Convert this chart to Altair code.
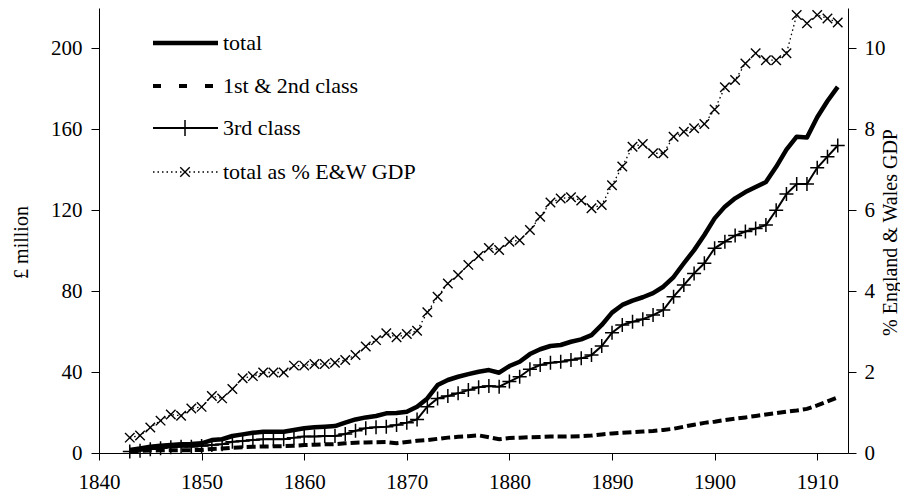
import altair as alt
import pandas as pd

years = list(range(1843, 1913))

total = [1.5, 2.3, 3.1, 3.6, 4.0, 4.3, 4.4, 4.8, 6.4, 6.8,
         8.4, 9.2, 10.0, 10.5, 10.5, 10.5, 11.4, 12.2, 12.7, 13.0,
         13.3, 15.0, 16.6, 17.6, 18.3, 19.6, 19.8, 20.4, 22.9, 27.0,
         33.6, 36.1, 37.7, 39.0, 40.2, 41.0, 39.7, 43.0, 45.1, 48.9,
         51.3, 52.9, 53.4, 55.0, 56.2, 58.3, 63.3, 69.4, 73.2, 75.3,
         77.0, 79.0, 82.2, 87.0, 93.8, 100.3, 107.8, 116.0, 121.8, 125.9,
         129.0, 131.5, 134.0, 141.5, 150.0, 156.4, 156.0, 166.0, 174.0, 181.0]

first_second = [0.8, 1.0, 1.2, 1.3, 1.3, 1.4, 1.4, 1.5, 2.0, 2.2,
                2.6, 2.9, 3.1, 3.2, 3.3, 3.4, 3.6, 3.9, 4.1, 4.3,
                4.4, 4.8, 5.1, 5.2, 5.3, 5.4, 4.8, 5.4, 6.0, 6.4,
                7.0, 7.6, 8.0, 8.3, 8.7, 7.8, 6.8, 7.4, 7.6, 7.8,
                7.9, 8.1, 8.1, 8.2, 8.3, 8.6, 9.2, 9.7, 10.0, 10.3,
                10.6, 10.9, 11.4, 12.0, 13.0, 14.0, 14.9, 15.5, 16.3, 17.0,
                17.6, 18.3, 19.0, 19.7, 20.4, 21.0, 21.8, 23.5, 25.5, 27.5]

third = [0.7, 1.1, 1.8, 2.3, 2.8, 3.1, 3.1, 3.5, 4.0, 4.3,
         5.6, 5.9, 6.4, 6.8, 6.8, 6.8, 7.6, 8.1, 8.1, 8.4,
         8.4, 9.4, 11.0, 12.2, 12.7, 13.0, 13.8, 15.0, 16.6, 22.9,
         27.0, 28.2, 29.5, 31.1, 32.5, 33.1, 32.8, 35.3, 37.7, 41.4,
         43.5, 44.6, 45.1, 46.0, 46.8, 48.4, 52.9, 59.5, 63.3, 64.9,
         66.1, 68.2, 70.7, 77.3, 83.0, 88.8, 93.8, 101.2, 104.5, 107.5,
         109.5, 111.0, 112.7, 120.0, 128.0, 133.0, 133.0, 141.0, 146.5, 152.0]

gdp_pct = [0.38, 0.43, 0.63, 0.80, 0.95, 0.92, 1.10, 1.14, 1.41, 1.35,
           1.58, 1.85, 1.90, 1.99, 1.99, 1.99, 2.16, 2.16, 2.20, 2.20,
           2.23, 2.30, 2.42, 2.63, 2.79, 2.96, 2.86, 2.94, 3.02, 3.48,
           3.86, 4.19, 4.40, 4.65, 4.87, 5.07, 5.02, 5.22, 5.26, 5.51,
           5.84, 6.19, 6.29, 6.32, 6.24, 6.05, 6.13, 6.62, 7.08, 7.57,
           7.64, 7.41, 7.41, 7.82, 7.94, 8.03, 8.13, 8.49, 9.04, 9.22,
           9.63, 9.88, 9.71, 9.71, 9.88, 10.83, 10.62, 10.83, 10.74, 10.64]

x_ticks = [1840, 1850, 1860, 1870, 1880, 1890, 1900, 1910]
left_ticks = [0, 40, 80, 120, 160, 200]
right_ticks = [0, 2, 4, 6, 8, 10]
legend_labels = ["total", "1st & 2nd class", "3rd class", "total as % E&W GDP"]

df = pd.DataFrame({"year": years, "total": total, "first_second": first_second,
                   "third": third, "gdp": gdp_pct})
leg_df = pd.DataFrame({"label": legend_labels})

FONT = "Liberation Serif"
PLUS = "M-1,0L1,0M0,-1L0,1"
CROSS = "M-1,-1L1,1M-1,1L1,-1"

x_axis = alt.Axis(values=x_ticks, format="d", tickSize=7, labelPadding=11, grid=False,
                  domainColor="black", tickColor="black", labelFont=FONT,
                  labelFontSize=21, labelColor="black", labelFlush=False)
left_axis = alt.Axis(values=left_ticks, tickSize=8, labelPadding=9, grid=False,
                     domainColor="black", tickColor="black", labelFont=FONT,
                     labelFontSize=21, labelColor="black",
                     title="£ million", titleFont=FONT, titleFontSize=20,
                     titleFontWeight="normal", titleColor="#000000", titleAngle=270,
                     titleX=-78, titleY=234, titleAlign="center", titleBaseline="middle")
right_axis = alt.Axis(orient="right", values=right_ticks, tickSize=8, labelPadding=8,
                      grid=False, domainColor="black", tickColor="black", labelFont=FONT,
                      labelFontSize=21, labelColor="black",
                      title="% England & Wales GDP", titleFont=FONT, titleFontSize=20,
                      titleFontWeight="normal", titleColor="#000000", titleAngle=270,
                      titleX=42, titleY=224, titleAlign="center", titleBaseline="middle")

x_enc = alt.X("year:Q", scale=alt.Scale(domain=[1840, 1913], nice=False, zero=False),
              axis=x_axis, title=None)
left_scale = alt.Scale(domain=[0, 220], nice=False)
right_scale = alt.Scale(domain=[0, 11], nice=False)


def yl(field):
    return alt.Y(f"{field}:Q", scale=left_scale, axis=left_axis)


def yr(field):
    return alt.Y(f"{field}:Q", scale=right_scale, axis=right_axis)


base = alt.Chart(df)

total_line = base.mark_line(color="black", strokeWidth=4.5, strokeJoin="round").encode(
    x=x_enc, y=yl("total"))
fs_line = base.mark_line(color="black", strokeWidth=4, strokeDash=[9, 4]).encode(
    x=x_enc, y=yl("first_second"))
third_line = base.mark_line(color="black", strokeWidth=2).encode(x=x_enc, y=yl("third"))
third_pts = base.mark_point(shape=PLUS, size=196, filled=False, color="black",
                            strokeWidth=1.5, opacity=1).encode(x=x_enc, y=yl("third"))

gdp_line = base.mark_line(color="black", strokeWidth=1.3, strokeDash=[1.5, 3]).encode(
    x=x_enc, y=yr("gdp"))
gdp_pts = base.mark_point(shape=CROSS, size=90, filled=False, color="black",
                          strokeWidth=1.4, opacity=1).encode(x=x_enc, y=yr("gdp"))

left = alt.layer(total_line, fs_line, third_line, third_pts)
right = alt.layer(gdp_line, gdp_pts)

# manual legend (pixel positions inside the plot area)
row_y = [35, 78, 120, 164]
leg = alt.Chart(leg_df)


def leg_rule(i, **kw):
    return leg.transform_filter(alt.datum.label == legend_labels[i]).mark_rule(
        color="black", **kw).encode(x=alt.value(54), x2=alt.value(119), y=alt.value(row_y[i]))


def leg_text(i):
    return leg.transform_filter(alt.datum.label == legend_labels[i]).mark_text(
        align="left", baseline="middle", font=FONT, fontSize=22, color="black").encode(
        x=alt.value(124), y=alt.value(row_y[i]), text="label:N")


def leg_point(i, shape, size, sw):
    return leg.transform_filter(alt.datum.label == legend_labels[i]).mark_point(
        shape=shape, size=size, filled=False, color="black", strokeWidth=sw,
        opacity=1).encode(x=alt.value(86), y=alt.value(row_y[i]))


legend_layers = [
    leg_rule(0, strokeWidth=4.5),
    leg_rule(1, strokeWidth=4, strokeDash=[8, 18]),
    leg_rule(2, strokeWidth=2),
    leg_point(2, PLUS, 256, 1.5),
    leg_rule(3, strokeWidth=1.3, strokeDash=[1.5, 3]),
    leg_point(3, CROSS, 90, 1.4),
] + [leg_text(i) for i in range(4)]

chart = alt.layer(left, right, *legend_layers).resolve_scale(y="independent").properties(
    width=749, height=445,
    padding={"left": 91, "top": 0, "right": 52, "bottom": 41},
    autosize=alt.AutoSizeParams(type="none"),
).configure_view(strokeWidth=0)

chart.save("out.html", embed_options={"renderer": "svg", "actions": False})
